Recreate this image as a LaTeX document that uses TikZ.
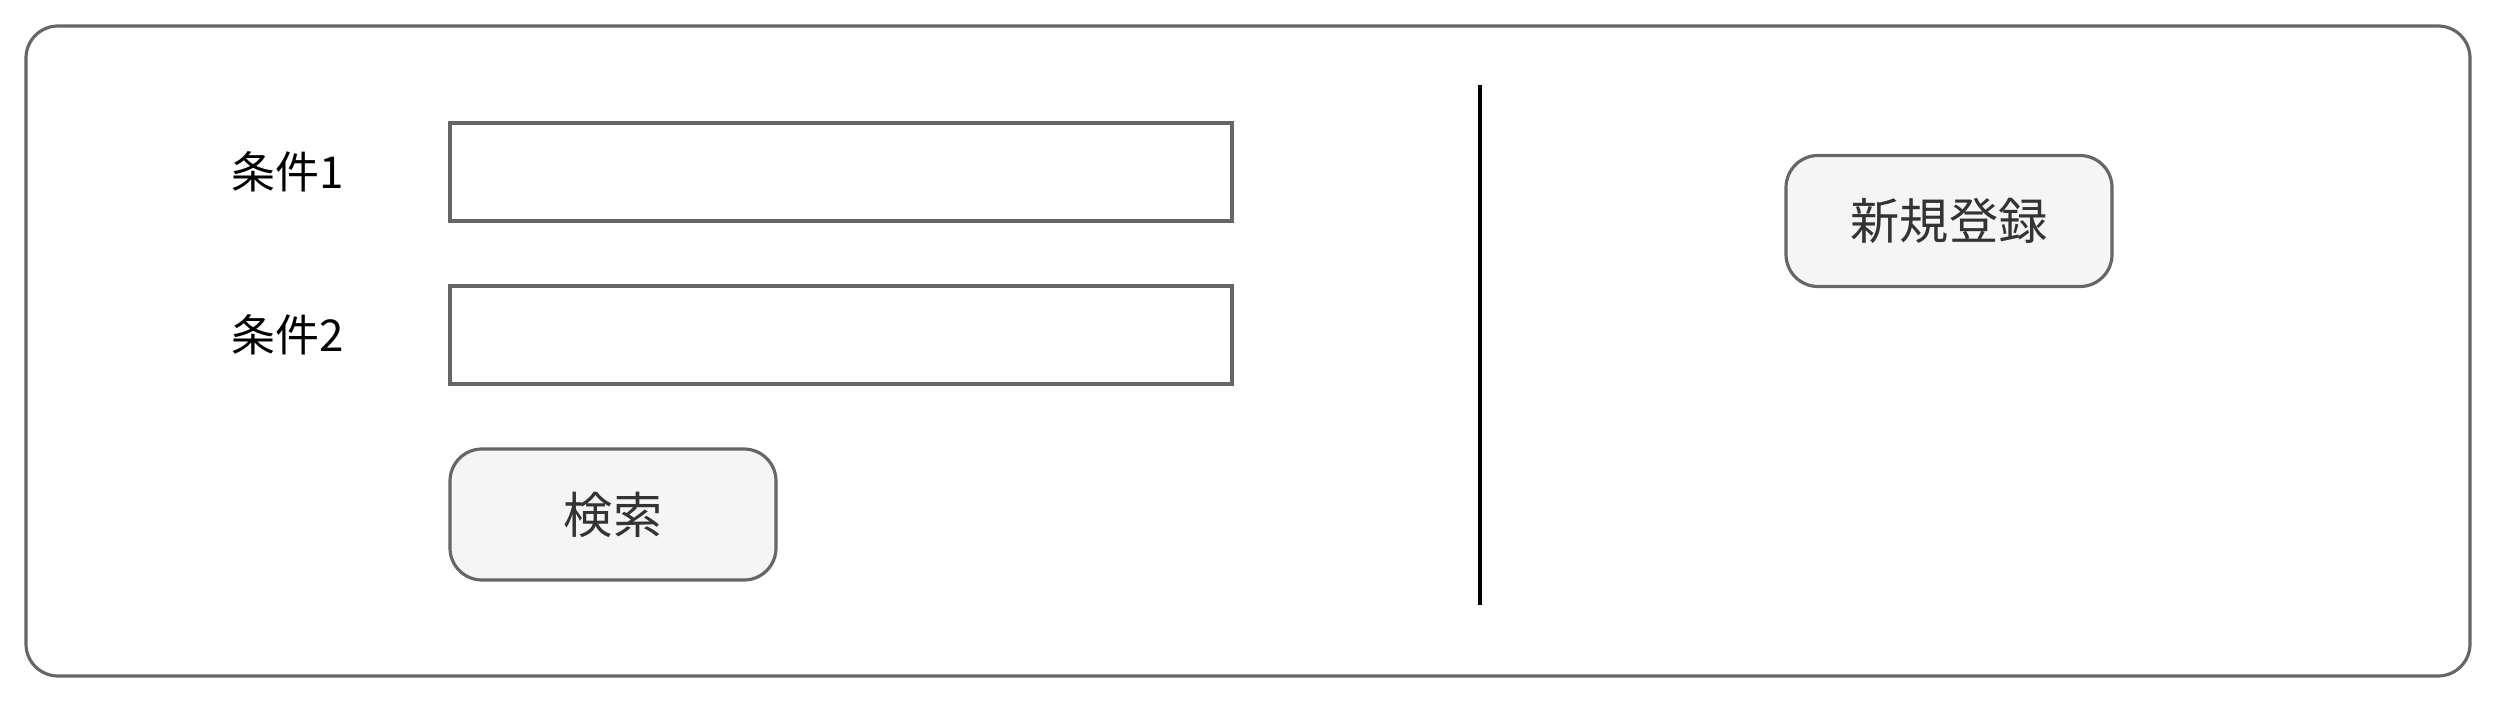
\documentclass[tikz,border=0pt]{standalone}
\usepackage{fontspec}
\setmainfont{Noto Sans CJK JP}
\begin{document}
\begin{tikzpicture}[
    frame/.style={draw=black!60, line width=0.9pt, rounded corners=0.32cm},
    label/.style={font=\fontsize{12.5}{14}\selectfont, text=black},
    inputbox/.style={rectangle, draw=black!60, line width=0.9pt, fill=white, minimum width=7.82cm, minimum height=0.98cm},
    button/.style={rectangle, draw=black!60, line width=0.9pt, fill=black!4, rounded corners=0.32cm, minimum width=3.26cm, minimum height=1.31cm, text=black!80, font=\fontsize{14}{16}\selectfont}
]
    \useasboundingbox (0,0) rectangle (25,-7.1);

    % Outer frame
    \draw[frame] (0.26,-0.26) rectangle (24.70,-6.76);

    % Search conditions
    \node[label] (cond1) at (2.88,-1.72) {条件1};
    \node[inputbox] (input1) at (8.41,-1.72) {};
    \node[label] (cond2) at (2.88,-3.35) {条件2};
    \node[inputbox] (input2) at (8.41,-3.35) {};

    % Search button
    \node[button] (search) at (6.13,-5.145) {検索};

    % Divider
    \coordinate (divtop) at (14.80,-0.85);
    \coordinate (divbot) at (14.80,-6.05);
    \draw[line width=0.9pt] (divtop) -- (divbot);

    % New entry button
    \node[button] (create) at (19.49,-2.21) {新規登録};
\end{tikzpicture}
\end{document}
